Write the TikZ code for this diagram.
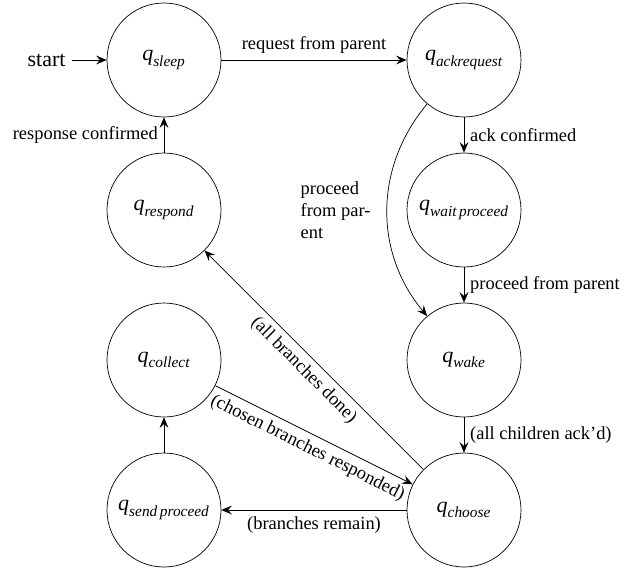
\documentclass[tikz,border=0pt]{standalone}
\usepackage{amsmath}
\usepackage{fontspec}
\setmainfont{Liberation Serif}
\usepackage{tikz}
\usetikzlibrary{positioning,automata,arrows.meta}
\tikzstyle{phase}=[state, minimum size=2.28cm, font=\fontsize{12.5}{14}\selectfont]
\tikzstyle{move}=[-{Stealth[length=6pt, width=5pt, inset=2.2pt]}, font=\fontsize{10.5}{12.5}\selectfont]
\tikzset{every initial by arrow/.style={-{Stealth[length=6pt, width=5pt, inset=2.2pt]}, font=\fontsize{12.5}{14}\selectfont}}
\newcommand{\qstate}[1]{$\textit{q}_{\textit{#1}}$}

\begin{document}
\begin{tikzpicture}[node distance=3cm, on grid, initial distance=0.7cm]
	\useasboundingbox (-3.28,1.2) rectangle (9.26,-10.26);

	\node (sleep) [phase, initial, initial text=start] {\qstate{sleep}};
	\node (ackrequest) [phase, right=6cm of sleep] {\qstate{ackrequest}};

	\node (respond) [phase, below=of sleep] {\qstate{respond}};
	\node (waitproceed) [phase, below=of ackrequest] {\qstate{wait\,proceed}};

	\node (collect) [phase, below=of respond] {\qstate{collect}};
	\node (wake) [phase, below=of waitproceed] {\qstate{wake}};

	\node (sendproceed) [phase, below=of collect] {\qstate{send\,proceed}};
	\node (choose) [phase, below=of wake] {\qstate{choose}};


\draw[move] (sleep) -- node[above] {request from parent} (ackrequest);
\draw[move] (ackrequest) -- node[right] {ack confirmed} (waitproceed);
\draw[move] (waitproceed) -- node[right] {proceed from parent} (wake);
\draw[move] (ackrequest) to[bend right=40] node[left=6pt, align=left] {proceed\\from par-\\ent} (wake);
\draw[move] (wake) -- node[right] {(all children ack'd)} (choose);

\draw[move] (choose) -- node[below] {(branches remain)} (sendproceed);
\draw[move] (sendproceed) -- (collect);
\draw[move] (collect) -- node[below, sloped] {(chosen branches responded)} (choose);
\draw[move] (choose) -- node[below, sloped] {(all branches done)} (respond);
\draw[move] (respond) -- node[left] {response confirmed} (sleep);

\end{tikzpicture}
\end{document}
